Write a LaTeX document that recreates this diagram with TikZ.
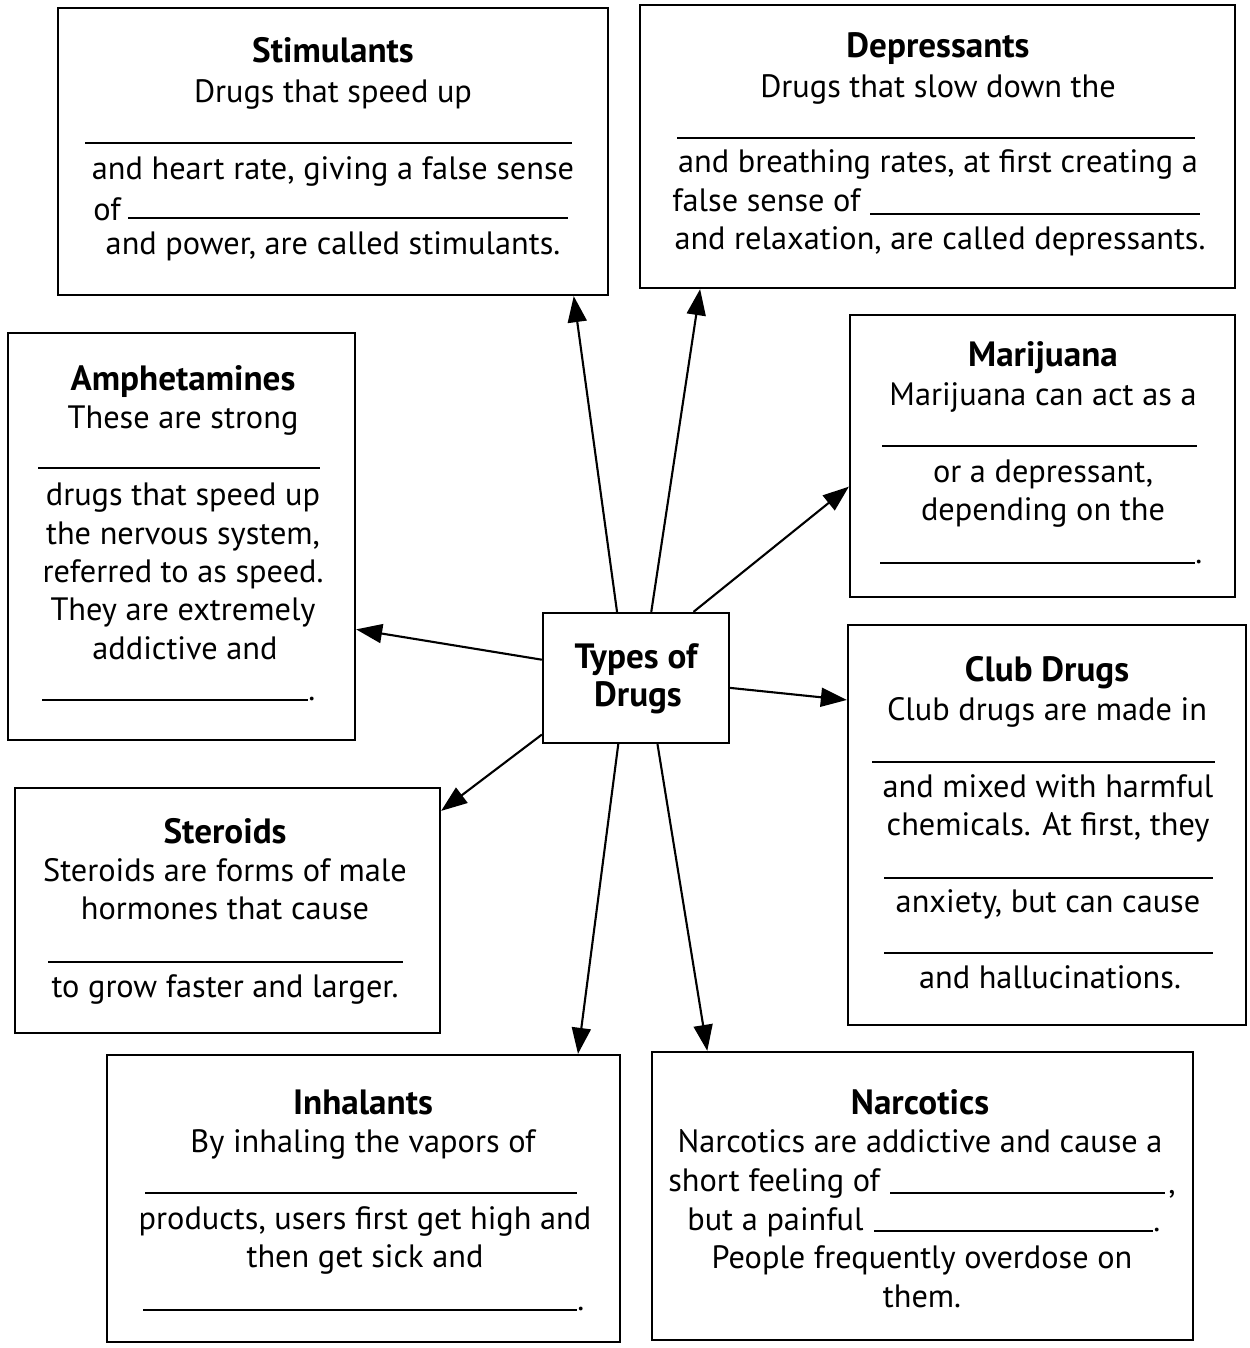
\documentclass[tikz,border=0pt]{standalone}
\usepackage{fontspec}
\setmainfont{PT Sans}
\usetikzlibrary{arrows.meta,fit}
\begin{document}
\begin{tikzpicture}[x=0.02cm,y=-0.02cm,
  box/.style={draw, line width=1.3pt, inner sep=0pt},
  tx/.style={anchor=base, inner sep=0pt, font=\fontsize{18.4}{21}\selectfont},
  tl/.style={tx, anchor=base west},
  hd/.style={tx, font=\fontsize{20}{23}\selectfont\bfseries},
  blank/.style={line width=0.6pt},
  arr/.style={line width=1.2pt, -{Triangle[length=0.52cm,width=0.38cm]}}]
\useasboundingbox (0,0) rectangle (1249,1348);

% boxes
\node[box, fit={(58,8) (608,295)}] (stim) {};
\node[box, fit={(640,5) (1235,288)}] (dep) {};
\node[box, fit={(850,315) (1235,597)}] (mari) {};
\node[box, fit={(8,333) (355,740)}] (amph) {};
\node[box, fit={(543,613) (729,743)}] (types) {};
\node[box, fit={(848,625) (1246,1025)}] (club) {};
\node[box, fit={(15,788) (440,1033)}] (ster) {};
\node[box, fit={(107,1055) (620,1342)}] (inh) {};
\node[box, fit={(652,1052) (1193,1340)}] (narc) {};

% center
\node[hd] (t1) at (636,668) {Types of};
\node[hd] (t2) at (638,706) {Drugs};

% Stimulants
\node[hd] (s0) at (333,63) {Stimulants};
\node[tx] (s1) at (333,103) {Drugs that speed up};
\draw[blank] (85,143) -- (572,143);
\node[tx] (s2) at (333,180) {and heart rate, giving a false sense};
\node[tl] (s3) at (93,220) {of};
\draw[blank] (128,218) -- (568,218);
\node[tx] (s4) at (333,255) {and power, are called stimulants.};

% Depressants
\node[hd] (d0) at (938,58) {Depressants};
\node[tx] (d1) at (938,98) {Drugs that slow down the};
\draw[blank] (677,138) -- (1195,138);
\node[tx] (d2) at (938,173) {and breathing rates, at first creating a};
\node[tl] (d3) at (672,212) {false sense of};
\draw[blank] (870,214) -- (1200,214);
\node[tx] (d4) at (940,250) {and relaxation, are called depressants.};

% Marijuana
\node[hd] (m0) at (1043,366) {Marijuana};
\node[tx] (m1) at (1043,405) {Marijuana can act as a};
\draw[blank] (882,446) -- (1197,446);
\node[tx] (m2) at (1043,482) {or a depressant,};
\node[tx] (m3) at (1043,520) {depending on the};
\draw[blank] (880,563) -- (1195,563);
\node[tl] (m4) at (1195,563) {.};

% Amphetamines
\node[hd] (a0) at (183,390) {Amphetamines};
\node[tx] (a1) at (183,428) {These are strong};
\draw[blank] (38,468) -- (320,468);
\node[tx] (a2) at (183,505) {drugs that speed up};
\node[tx] (a3) at (183,544) {the nervous system,};
\node[tx] (a4) at (183,582) {referred to as speed.};
\node[tx] (a5) at (183,620) {They are extremely};
\node[tx] (a6) at (185,659) {addictive and};
\draw[blank] (42,700) -- (308,700);
\node[tl] (a7) at (308,700) {.};

% Club Drugs
\node[hd] (c0) at (1047,681) {Club Drugs};
\node[tx] (c1) at (1047,720) {Club drugs are made in};
\draw[blank] (872,762) -- (1215,762);
\node[tx] (c2) at (1048,797) {and mixed with harmful};
\node[tx] (c3) at (1048,835) {chemicals. At first, they};
\draw[blank] (884,878) -- (1213,878);
\node[tx] (c4) at (1048,912) {anxiety, but can cause};
\draw[blank] (884,953) -- (1213,953);
\node[tx] (c5) at (1050,988) {and hallucinations.};

% Steroids
\node[hd] (r0) at (225,843) {Steroids};
\node[tx] (r1) at (225,881) {Steroids are forms of male};
\node[tx] (r2) at (225,919) {hormones that cause};
\draw[blank] (48,962) -- (403,962);
\node[tx] (r3) at (225,997) {to grow faster and larger.};

% Inhalants
\node[hd] (i0) at (363,1114) {Inhalants};
\node[tx] (i1) at (363,1152) {By inhaling the vapors of};
\draw[blank] (145,1193) -- (577,1193);
\node[tx] (i2) at (365,1229) {products, users first get high and};
\node[tx] (i3) at (365,1267) {then get sick and};
\draw[blank] (143,1310) -- (577,1310);
\node[tl] (i4) at (577,1310) {.};

% Narcotics
\node[hd] (n0) at (920,1114) {Narcotics};
\node[tx] (n1) at (920,1152) {Narcotics are addictive and cause a};
\node[tl] (n2) at (668,1191) {short feeling of};
\draw[blank] (890,1193) -- (1165,1193);
\node[tl] (n3) at (1168,1193) {,};
\node[tl] (n4) at (687,1230) {but a painful};
\draw[blank] (874,1231) -- (1153,1231);
\node[tl] (n5) at (1153,1231) {.};
\node[tx] (n6) at (922,1268) {People frequently overdose on};
\node[tx] (n7) at (922,1307) {them.};

% arrows
\draw[arr] (types.106.1) -- (stim.-31.4);
\draw[arr] (types.77.2) -- (dep.-149.5);
\draw[arr] (types.49.7) -- (mari.189.4);
\draw[arr] (types.169) -- (amph.-28.3);
\draw[arr] (types.-6.7) -- (club.148.9);
\draw[arr] (types.211.5) -- (ster.25.3);
\draw[arr] (types.-105.5) -- (inh.34.2);
\draw[arr] (types.-72.9) -- (narc.146.1);
\end{tikzpicture}
\end{document}
